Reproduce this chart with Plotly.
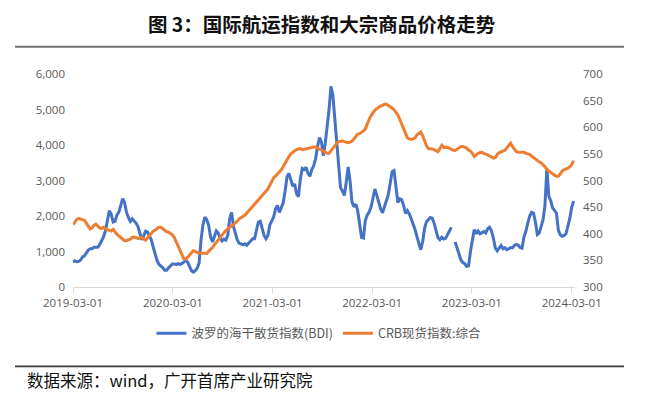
import pandas as pd
import plotly.graph_objects as go

title_text = "图 3：国际航运指数和大宗商品价格走势"
source_text = "数据来源：wind，广开首席产业研究院"
bdi_name = "波罗的海干散货指数(BDI)"
crb_name = "CRB现货指数:综合"
start_date = "2019-03-01"

tick_dates = ["2019-03-01", "2020-03-01", "2021-03-01", "2022-03-01", "2023-03-01", "2024-03-01"]
tick_labels = ["2019-03-01", "2020-03-01", "2021-03-01", "2022-03-01", "2023-03-01", "2024-03-01"]
left_ticks = [0, 1000, 2000, 3000, 4000, 5000, 6000]
right_ticks = [300, 350, 400, 450, 500, 550, 600, 650, 700]

# weekly readings, BDI (left axis)
bdi = [
    700, 740, 710, 720, 760, 850, 880, 980, 1040, 1080,
    1080, 1120, 1130, 1120, 1200, 1290, 1420, 1590, 1850, 2150,
    2050, 1830, 1850, 2030, 2110, 2280, 2490, 2380, 2100, 1960,
    1850, 1920, 1860, 1800, 1700, 1510, 1330, 1440, 1570, 1550,
    1430, 1330, 1120, 920, 740, 640, 600, 540, 470, 470,
    540, 600, 650, 650, 630, 660, 640, 660, 710, 750,
    700, 580, 460, 420, 460, 530, 680, 1320, 1750, 1970,
    1900, 1730, 1410, 1270, 1450, 1580, 1520, 1380, 1300, 1350,
    1320, 1460, 1920, 2100, 1700, 1500, 1320, 1230, 1200, 1190,
    1220, 1180, 1240, 1300, 1360, 1360, 1590, 1830, 1850, 1680,
    1450, 1360, 1450, 1750, 1840, 1970, 2200, 2300, 2100, 2240,
    2370, 2700, 3100, 3200, 2980, 2840, 2900, 2620, 2550, 3050,
    3340, 3310, 3370, 3200, 3120, 3310, 3420, 3620, 3960, 4210,
    4090, 3700, 4050, 4480, 5000, 5650, 5400, 4750, 4100, 3250,
    2800, 2700, 2580, 2950, 3380, 2980, 2400, 2260, 2330, 2150,
    1750, 1400, 1380, 1880, 2030, 2110, 2260, 2540, 2760, 2580,
    2380, 2200, 2090, 2250, 2430, 2600, 2920, 3250, 3280, 2800,
    2380, 2480, 2460, 2300, 2070, 2150, 2060, 1920, 1780, 1620,
    1420, 1200, 1050, 1280, 1650, 1840, 1900, 1960, 1940, 1800,
    1590, 1390, 1330, 1400, 1350, 1370, 1470, 1590, 1680, None,
    1270, 1100, 900, 760, 690, 660, 580, 590, 1000, 1370,
    1620, 1500, 1580, 1500, 1540, 1560, 1520, 1640, 1680, 1580,
    1380, 1100, 1020, 1110, 1170, 1080, 1110, 1050, 1090, 1110,
    1100, 1170, 1200, 1180, 1110, 1090, 1410, 1570, 1800, 2000,
    2100, 2080, 1830, 1480, 1520, 1680, 1900, 2300, 3340, 2560,
    2430, 2230, 2160, 2080, 1600, 1470, 1430, 1450, 1500, 1700,
    1930, 2250, 2420,
]

# weekly readings, CRB spot index (right axis)
crb = [
    417, 423, 427, 429, 428, 426, 425, 420, 414, 409,
    411, 416, 418, 415, 411, 410, 412, 409, 408, 407,
    405, 408, 403, 399, 396, 393, 390, 387, 387, 388,
    390, 393, 394, 393, 391, 392, 393, 391, 388, 392,
    397, 401, 405, 407, 410, 412, 412, 409, 406, 404,
    403, 400, 398, 393, 385, 376, 369, 361, 353, 352,
    356, 361, 364, 368, 367, 365, 363, 364, 364, 363,
    363, 367, 370, 374, 379, 384, 388, 392, 397, 402,
    406, 409, 413, 415, 417, 420, 424, 428, 430, 432,
    435, 439, 443, 447, 452, 456, 460, 463, 467, 470,
    474, 478, 484, 491, 497, 505, 508, 512, 515, 520,
    526, 533, 540, 545, 550, 554, 556, 558, 559, 560,
    558, 559, 560, 561, 562, 563, 563, 563, 561, 560,
    558, 556, 554, 551, 551, 556, 561, 566, 570, 573,
    574, 574, 573, 572, 571, 572, 574, 578, 582, 587,
    588, 590, 593, 597, 607, 615, 622, 628, 632, 635,
    638, 640, 641, 643, 643, 641, 639, 636, 633, 628,
    623, 615, 606, 597, 588, 580, 578, 577, 578, 580,
    586, 589, 591, 584, 573, 565, 560, 560, 559, 558,
    556, 554, 560, 566, 562, 563, 562, 560, 558, 557,
    556, 559, 562, 564, 564, 563, 561, 557, 555, 551,
    545, 548, 551, 552, 553, 551, 550, 548, 546, 544,
    542, 543, 549, 552, 554, 555, 557, 561, 565, 570,
    564, 558, 554, 553, 553, 554, 553, 551, 550, 549,
    546, 543, 541, 538, 535, 533, 530, 526, 521, 518,
    515, 512, 510, 508, 508, 512, 518, 520, 521, 523,
    526, 530, 537,
]

dates = pd.date_range(start_date, periods=len(bdi), freq="7D")

BLUE = "#4472C4"
ORANGE = "#ED7D31"
GREY = "#595959"
TICKFONT = dict(family="Open Sans, Noto Sans, sans-serif", size=11.5, color=GREY)
CJK = "Noto Sans CJK SC, sans-serif"

fig = go.Figure()
fig.add_trace(go.Scatter(x=dates, y=bdi, name=bdi_name, mode="lines",
                         line=dict(color=BLUE, width=3), connectgaps=False, yaxis="y"))
fig.add_trace(go.Scatter(x=dates, y=crb, name=crb_name, mode="lines",
                         line=dict(color=ORANGE, width=3), yaxis="y2"))

fig.update_layout(
    width=653, height=397,
    margin=dict(l=73, r=78, t=74, b=110),
    paper_bgcolor="white", plot_bgcolor="white",
    title=dict(text="<b>" + title_text + "</b>", x=0.4926, y=0.937, xanchor="center", yanchor="middle",
               font=dict(family=CJK, size=19.5, color="#111111")),
    xaxis=dict(type="date", range=["2019-03-01", "2024-03-13"],
               tickvals=tick_dates, ticktext=tick_labels,
               showgrid=False, zeroline=False, showline=True, linecolor="#d9d9d9", linewidth=1,
               ticks="outside", ticklen=5, tickcolor="#d9d9d9", tickfont=TICKFONT),
    yaxis=dict(range=[0, 6000], tickvals=left_ticks, tickformat=",", showgrid=False, zeroline=False,
               showline=False, ticks="", tickfont=TICKFONT, ticklabelstandoff=7),
    yaxis2=dict(range=[300, 700], tickvals=right_ticks, overlaying="y", side="right", showgrid=False,
                zeroline=False, showline=False, ticks="", tickfont=TICKFONT, ticklabelstandoff=7),
    legend=dict(orientation="h", x=0.49, y=-0.219, xanchor="center", yanchor="middle",
                font=dict(family=CJK, size=12.5, color=GREY), bgcolor="rgba(0,0,0,0)",
                itemwidth=30, tracegroupgap=0),
    showlegend=True,
)

fig.add_shape(type="line", xref="paper", yref="paper", x0=-0.1155, x1=1.0976, y0=1.1284, y1=1.1284,
              line=dict(color="#737373", width=2))
fig.add_shape(type="line", xref="paper", yref="paper", x0=-0.1155, x1=1.0976, y0=-0.3728, y1=-0.3728,
              line=dict(color="#3a3a3a", width=1.7))
fig.add_annotation(text=source_text, xref="paper", yref="paper", x=-0.0956, y=-0.4354,
                   xanchor="left", yanchor="middle", showarrow=False,
                   font=dict(family=CJK, size=16.5, color="#111111"))

fig.write_html("out.html", config={"displayModeBar": False},
               post_script="document.body.style.margin='0';document.body.style.padding='0';")
